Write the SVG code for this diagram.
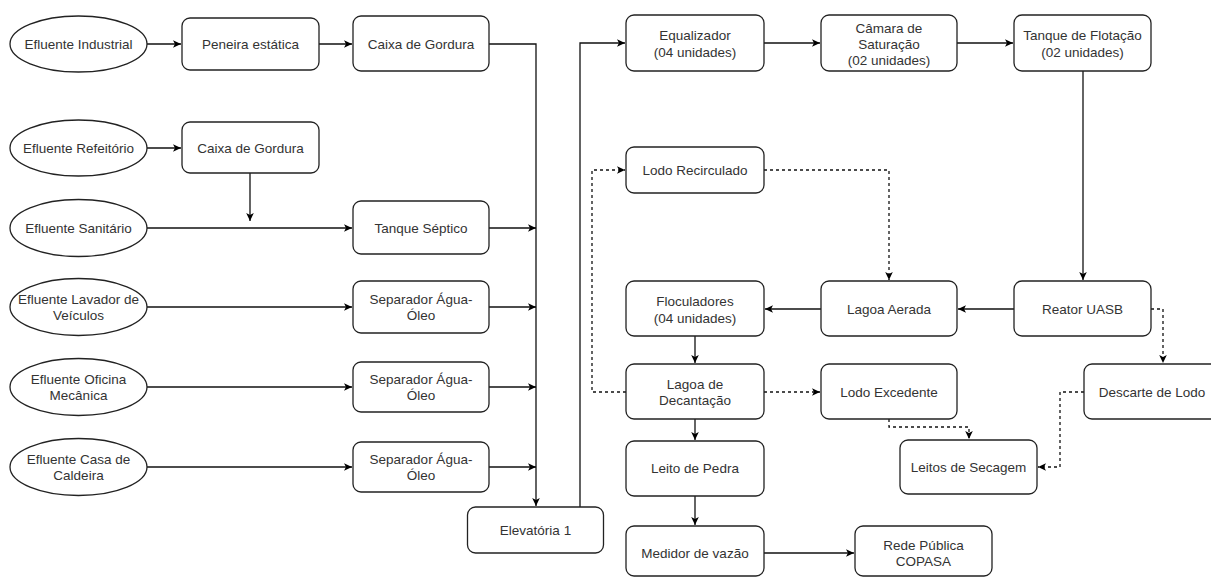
<svg xmlns="http://www.w3.org/2000/svg" width="1211" height="577" viewBox="0 0 1211 577">
<defs>
<marker id="arr" markerUnits="userSpaceOnUse" markerWidth="10" markerHeight="10" viewBox="0 0 10 10" refX="9" refY="5" orient="auto">
<path d="M1,1.2 L9,5 L1,8.8 L3,5 z" fill="#000"/>
</marker>
<style>
.n rect, .n ellipse { fill:#fff; stroke:#222; stroke-width:1.3; }
.n text { font-family:"Liberation Sans", Arial, sans-serif; font-size:13.5px; fill:#333; text-anchor:middle; dominant-baseline:central; }
.c path { fill:none; stroke:#111; stroke-width:1.3; }
.c .d { stroke-dasharray:3 3; }
</style>
</defs>
<rect width="1211" height="577" fill="#fff"/>
<g class="c">
<path d="M147,44 H181" marker-end="url(#arr)"/>
<path d="M319,44 H352" marker-end="url(#arr)"/>
<path d="M489,44 H536 V506" marker-end="url(#arr)"/>
<path d="M147,148 H181" marker-end="url(#arr)"/>
<path d="M250,173 V221" marker-end="url(#arr)"/>
<path d="M147,228 H352" marker-end="url(#arr)"/>
<path d="M489,228 H536" marker-end="url(#arr)"/>
<path d="M147,307 H352" marker-end="url(#arr)"/>
<path d="M489,307 H536" marker-end="url(#arr)"/>
<path d="M147,387 H352" marker-end="url(#arr)"/>
<path d="M489,387 H536" marker-end="url(#arr)"/>
<path d="M147,467 H352" marker-end="url(#arr)"/>
<path d="M489,467 H536" marker-end="url(#arr)"/>
<path d="M580,507 V43 H625" marker-end="url(#arr)"/>
<path d="M764,43 H820" marker-end="url(#arr)"/>
<path d="M957,43 H1013" marker-end="url(#arr)"/>
<path d="M1083,71 V280" marker-end="url(#arr)"/>
<path d="M1014,309 H958" marker-end="url(#arr)"/>
<path d="M821,309 H765" marker-end="url(#arr)"/>
<path d="M695,336 V363" marker-end="url(#arr)"/>
<path d="M695,419 V440" marker-end="url(#arr)"/>
<path d="M695,496 V525" marker-end="url(#arr)"/>
<path d="M764,553 H854" marker-end="url(#arr)"/>
<path class="d" d="M764,170 H889 V280" marker-end="url(#arr)"/>
<path class="d" d="M626,392 H592 V170 H625" marker-end="url(#arr)"/>
<path class="d" d="M764,392 H820" marker-end="url(#arr)"/>
<path class="d" d="M1151,309 H1163 V363" marker-end="url(#arr)"/>
<path class="d" d="M889,419 V427 H969 V439" marker-end="url(#arr)"/>
<path class="d" d="M1084,392 H1060 V467 H1038" marker-end="url(#arr)"/>
</g>
<g class="n" id="ef-industrial"><ellipse cx="78.5" cy="44" rx="68.5" ry="28"/><text x="78.5" y="44">Efluente Industrial</text></g>
<g class="n" id="peneira"><rect x="182" y="18" width="137" height="52" rx="8"/><text x="250.5" y="44">Peneira estática</text></g>
<g class="n" id="caixa1"><rect x="353" y="16" width="136" height="55" rx="8"/><text x="421" y="44">Caixa de Gordura</text></g>
<g class="n" id="ef-refeitorio"><ellipse cx="78.5" cy="148" rx="68.5" ry="28"/><text x="78.5" y="148">Efluente Refeitório</text></g>
<g class="n" id="caixa2"><rect x="182" y="122" width="137" height="51" rx="8"/><text x="250.5" y="148">Caixa de Gordura</text></g>
<g class="n" id="ef-sanitario"><ellipse cx="78.5" cy="228" rx="68.5" ry="28.5"/><text x="78.5" y="228">Efluente Sanitário</text></g>
<g class="n" id="tanque-septico"><rect x="353" y="201" width="136" height="53" rx="8"/><text x="421" y="228">Tanque Séptico</text></g>
<g class="n" id="ef-lavador"><ellipse cx="78.5" cy="307" rx="68.5" ry="28.5"/><text x="78.5" y="299">Efluente Lavador de</text><text x="78.5" y="315">Veículos</text></g>
<g class="n" id="sep1"><rect x="353" y="281" width="136" height="52" rx="8"/><text x="421" y="299">Separador Água-</text><text x="421" y="315">Óleo</text></g>
<g class="n" id="ef-oficina"><ellipse cx="78.5" cy="387" rx="68.5" ry="28.5"/><text x="78.5" y="379">Efluente Oficina</text><text x="78.5" y="395">Mecânica</text></g>
<g class="n" id="sep2"><rect x="353" y="362" width="136" height="50" rx="8"/><text x="421" y="379">Separador Água-</text><text x="421" y="395">Óleo</text></g>
<g class="n" id="ef-caldeira"><ellipse cx="78.5" cy="467" rx="68.5" ry="28.5"/><text x="78.5" y="459">Efluente Casa de</text><text x="78.5" y="475">Caldeira</text></g>
<g class="n" id="sep3"><rect x="353" y="442" width="136" height="50" rx="8"/><text x="421" y="459">Separador Água-</text><text x="421" y="475">Óleo</text></g>
<g class="n" id="elevatoria"><rect x="467.5" y="507" width="136" height="46" rx="8"/><text x="535.5" y="530">Elevatória 1</text></g>
<g class="n" id="equalizador"><rect x="626" y="15" width="138" height="56" rx="8"/><text x="695" y="35">Equalizador</text><text x="695" y="52">(04 unidades)</text></g>
<g class="n" id="camara"><rect x="821" y="15" width="136" height="56" rx="8"/><text x="889" y="28">Câmara de</text><text x="889" y="44">Saturação</text><text x="889" y="60">(02 unidades)</text></g>
<g class="n" id="flotacao"><rect x="1014" y="15" width="137" height="56" rx="8"/><text x="1082.5" y="35">Tanque de Flotação</text><text x="1082.5" y="52">(02 unidades)</text></g>
<g class="n" id="lodo-recirculado"><rect x="626" y="147" width="138" height="46" rx="8"/><text x="695" y="170">Lodo Recirculado</text></g>
<g class="n" id="floculadores"><rect x="626" y="281" width="138" height="55" rx="8"/><text x="695" y="301">Floculadores</text><text x="695" y="318">(04 unidades)</text></g>
<g class="n" id="lagoa-aerada"><rect x="821" y="281" width="136" height="55" rx="8"/><text x="889" y="309">Lagoa Aerada</text></g>
<g class="n" id="reator"><rect x="1014" y="281" width="137" height="55" rx="8"/><text x="1082.5" y="309">Reator UASB</text></g>
<g class="n" id="decantacao"><rect x="626" y="364" width="138" height="55" rx="8"/><text x="695" y="384">Lagoa de</text><text x="695" y="400">Decantação</text></g>
<g class="n" id="lodo-excedente"><rect x="821" y="364" width="136" height="55" rx="8"/><text x="889" y="392">Lodo Excedente</text></g>
<g class="n" id="descarte"><rect x="1084" y="364" width="140" height="55" rx="8"/><text x="1152" y="392">Descarte de Lodo</text></g>
<g class="n" id="leitos-secagem"><rect x="900" y="440" width="137" height="54" rx="8"/><text x="968.5" y="467">Leitos de Secagem</text></g>
<g class="n" id="leito-pedra"><rect x="626" y="441" width="138" height="55" rx="8"/><text x="695" y="468">Leito de Pedra</text></g>
<g class="n" id="medidor"><rect x="626" y="526" width="138" height="50" rx="8"/><text x="695" y="553">Medidor de vazão</text></g>
<g class="n" id="rede"><rect x="855" y="526" width="137" height="50" rx="8"/><text x="923.5" y="545">Rede Pública</text><text x="923.5" y="561">COPASA</text></g>
</svg>
